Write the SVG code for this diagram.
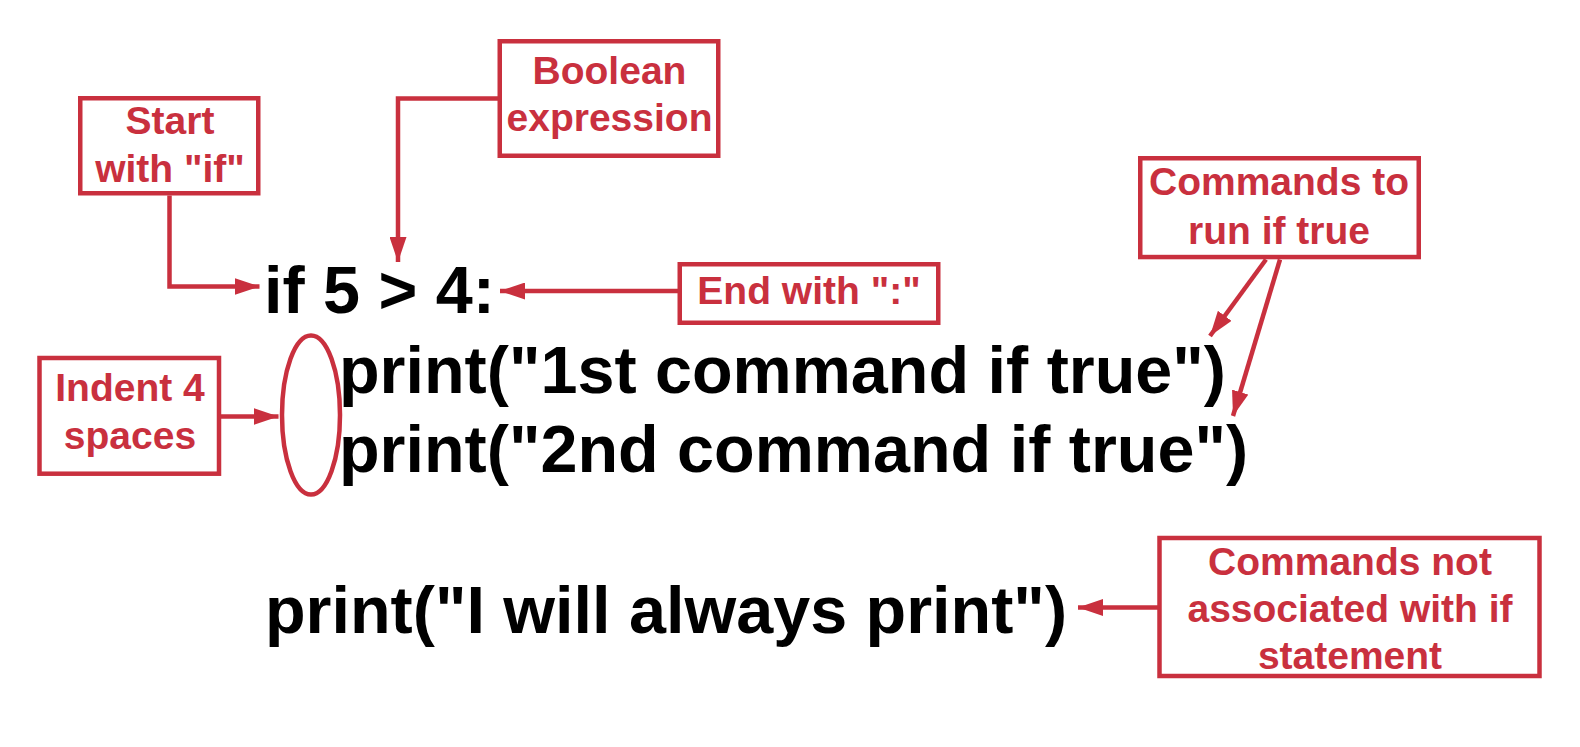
<svg xmlns="http://www.w3.org/2000/svg" width="1580" height="747" viewBox="0 0 1580 747">
<style>
.box{fill:none;stroke:#c9303e;stroke-width:4.5}
.lbl{font-family:"Liberation Sans",Arial,sans-serif;font-weight:bold;font-size:39px;fill:#c9303e;text-anchor:middle}
.code{font-family:"Liberation Sans",Arial,sans-serif;font-weight:bold;font-size:66.5px;fill:#000}
.con{fill:none;stroke:#c9303e;stroke-width:4.5;marker-end:url(#ah)}
</style>
<defs>
<marker id="ah" markerUnits="userSpaceOnUse" markerWidth="25" markerHeight="17" refX="25" refY="8.5" orient="auto" viewBox="0 0 25 17">
<path d="M0,0 L25,8.5 L0,17 z" fill="#c9303e"/>
</marker>
</defs>
<rect width="1580" height="747" fill="#fff"/>
<g id="code">
<text class="code" x="264" y="313">if 5 &gt; 4:</text>
<text class="code" x="339" y="393">print("1st command if true")</text>
<text class="code" x="339" y="472">print("2nd command if true")</text>
<text class="code" x="265" y="633">print("I will always print")</text>
</g>
<g id="indent-ellipse">
<ellipse cx="311" cy="415" rx="29" ry="79.5" class="box"/>
</g>
<g id="start">
<rect class="box" x="80.25" y="98.25" width="178" height="95"/>
<text class="lbl" x="170" y="133.5">Start</text>
<text class="lbl" x="170" y="181.5">with "if"</text>
</g>
<g id="boolean">
<rect class="box" x="499.75" y="41.25" width="218.5" height="114.5"/>
<text class="lbl" x="609.5" y="83.5">Boolean</text>
<text class="lbl" x="609.5" y="130.5">expression</text>
</g>
<g id="end">
<rect class="box" x="679.75" y="264.25" width="258.5" height="58.5"/>
<text class="lbl" x="809" y="303.5">End with ":"</text>
</g>
<g id="commands-true">
<rect class="box" x="1140.25" y="158.25" width="278.5" height="98.8"/>
<text class="lbl" x="1279" y="195">Commands to</text>
<text class="lbl" x="1279" y="243.5">run if true</text>
</g>
<g id="indent">
<rect class="box" x="39.5" y="358" width="179.5" height="115.7"/>
<text class="lbl" x="130" y="401">Indent 4</text>
<text class="lbl" x="130" y="448.5">spaces</text>
</g>
<g id="not-associated">
<rect class="box" x="1159.5" y="538" width="380" height="138"/>
<text class="lbl" x="1350" y="575">Commands not</text>
<text class="lbl" x="1350" y="621.5">associated with if</text>
<text class="lbl" x="1350" y="668.5">statement</text>
</g>
<g id="connectors">
<path class="con" d="M169.5,195.5 V286.5 H259.5"/>
<path class="con" d="M500,98.5 H398 V262"/>
<path class="con" d="M680,291 H500"/>
<path class="con" d="M1266,259.5 L1210,336"/>
<path class="con" d="M1280,259.5 L1233,416"/>
<path class="con" d="M221,416.5 H278.5"/>
<path class="con" d="M1160,607.5 H1078"/>
</g>
</svg>
